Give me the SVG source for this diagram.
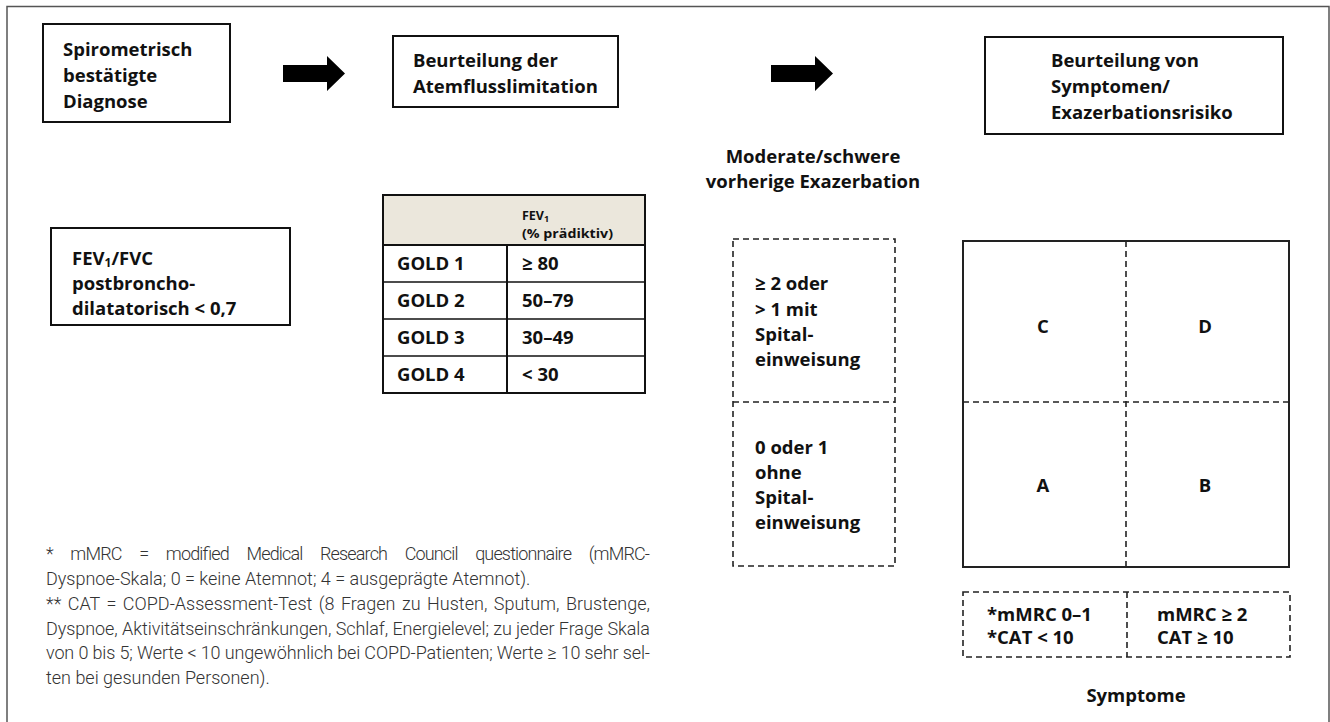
<svg xmlns="http://www.w3.org/2000/svg" width="1330" height="722" viewBox="0 0 1330 722">
<style>
  .box{fill:#fff;stroke:#111;stroke-width:2}
  .dash{fill:none;stroke:#222;stroke-width:1.6;stroke-dasharray:6 4}
  .t{font-family:"Open Sans","Noto Sans",sans-serif;font-weight:700;font-size:18.5px;fill:#111}
  .ts{font-family:"Open Sans","Noto Sans",sans-serif;font-weight:700;font-size:12.5px;fill:#111}
  .fn{font-family:Roboto,"Noto Sans",sans-serif;font-weight:300;font-size:18px;fill:#333}
  .arrow{fill:#000}
</style>
<rect x="0" y="0" width="1330" height="722" fill="#fff"/>
<path d="M7,722 V6.5 H1329 V722" fill="none" stroke="#555" stroke-width="1.5"/>

<g id="connectors">
  <polygon class="arrow" points="283,65 327,65 327,56 345,73.5 327,91 327,82 283,82"/>
  <polygon class="arrow" points="771,65 815,65 815,56 833,73.5 815,91 815,82 771,82"/>
</g>

<g id="box-diagnose">
  <rect class="box" x="43" y="24" width="187" height="98"/>
  <text class="t"><tspan x="63" y="56">Spirometrisch</tspan><tspan x="63" y="82">bestätigte</tspan><tspan x="63" y="108">Diagnose</tspan></text>
</g>

<g id="box-atemfluss">
  <rect class="box" x="393" y="36" width="225" height="71"/>
  <text class="t"><tspan x="413" y="67">Beurteilung der</tspan><tspan x="413" y="93">Atemflusslimitation</tspan></text>
</g>

<g id="box-symptome">
  <rect class="box" x="985" y="37" width="298" height="97"/>
  <text class="t"><tspan x="1051" y="67">Beurteilung von</tspan><tspan x="1051" y="93">Symptomen/</tspan><tspan x="1051" y="119">Exazerbationsrisiko</tspan></text>
</g>

<g id="box-fev">
  <rect class="box" x="51" y="228" width="239" height="97"/>
  <text class="t" font-size="19.5"><tspan x="72" y="265">FEV<tspan font-size="12" dy="2">1</tspan><tspan dy="-2">/FVC</tspan></tspan><tspan x="72" y="290">postbroncho-</tspan><tspan x="72" y="315">dilatatorisch &lt; 0,7</tspan></text>
</g>

<g id="table-gold">
  <rect x="383" y="195" width="262" height="50" fill="#ebe7dc"/>
  <rect x="383" y="195" width="262" height="198" fill="none" stroke="#111" stroke-width="2"/>
  <line x1="383" y1="245" x2="645" y2="245" stroke="#111" stroke-width="2"/>
  <line x1="383" y1="282" x2="645" y2="282" stroke="#111" stroke-width="1.5"/>
  <line x1="383" y1="319" x2="645" y2="319" stroke="#111" stroke-width="1.5"/>
  <line x1="383" y1="356" x2="645" y2="356" stroke="#111" stroke-width="1.5"/>
  <line x1="507" y1="245" x2="507" y2="393" stroke="#111" stroke-width="2"/>
  <text class="ts" x="522" y="220">FEV<tspan font-size="9" dy="2">1</tspan></text>
  <text class="ts" x="522" y="238" textLength="91" lengthAdjust="spacingAndGlyphs">(% prädiktiv)</text>
  <text class="t"><tspan x="397" y="270">GOLD 1</tspan><tspan x="397" y="307">GOLD 2</tspan><tspan x="397" y="344">GOLD 3</tspan><tspan x="397" y="381">GOLD 4</tspan></text>
  <text class="t"><tspan x="522" y="270">≥ 80</tspan><tspan x="522" y="307">50–79</tspan><tspan x="522" y="344">30–49</tspan><tspan x="522" y="381">&lt; 30</tspan></text>
</g>

<g id="exazerbation-label">
  <text class="t" text-anchor="middle"><tspan x="813" y="163">Moderate/schwere</tspan><tspan x="813" y="188">vorherige Exazerbation</tspan></text>
</g>

<g id="exazerbation-box">
  <rect class="dash" x="733" y="239" width="162" height="327"/>
  <line class="dash" x1="733" y1="402" x2="895" y2="402"/>
  <text class="t"><tspan x="755" y="290">≥ 2 oder</tspan><tspan x="755" y="316">&gt;  1 mit</tspan><tspan x="755" y="341">Spital-</tspan><tspan x="755" y="366">einweisung</tspan></text>
  <text class="t"><tspan x="755" y="454">0 oder 1</tspan><tspan x="755" y="479">ohne</tspan><tspan x="755" y="504">Spital-</tspan><tspan x="755" y="529">einweisung</tspan></text>
</g>

<g id="grid-abcd">
  <rect x="963" y="241" width="326" height="326" fill="none" stroke="#222" stroke-width="2"/>
  <line class="dash" x1="1126" y1="241" x2="1126" y2="567"/>
  <line class="dash" x1="963" y1="402" x2="1289" y2="402"/>
  <text class="t" text-anchor="middle"><tspan x="1043" y="333">C</tspan><tspan x="1205" y="333">D</tspan><tspan x="1043" y="492">A</tspan><tspan x="1205" y="492">B</tspan></text>
</g>

<g id="symptom-box">
  <rect class="dash" x="963" y="592" width="327" height="65"/>
  <line class="dash" x1="1127" y1="592" x2="1127" y2="657"/>
  <text class="t" font-size="15"><tspan x="987" y="621">*mMRC 0–1</tspan><tspan x="987" y="644">*CAT &lt; 10</tspan></text>
  <text class="t" font-size="15"><tspan x="1157" y="621">mMRC ≥ 2</tspan><tspan x="1157" y="644">CAT ≥ 10</tspan></text>
</g>

<g id="symptome-label">
  <text class="t" x="1136" y="702" text-anchor="middle" font-size="14.5">Symptome</text>
</g>

<g id="footnote">
  <text class="fn" x="46" y="560" word-spacing="14" textLength="604" lengthAdjust="spacing">* mMRC = modified Medical Research Council questionnaire (mMRC-</text>
  <text class="fn" x="46" y="585">Dyspnoe-Skala; 0 = keine Atemnot; 4 = ausgeprägte Atemnot).</text>
  <text class="fn" x="46" y="610" word-spacing="2" textLength="604" lengthAdjust="spacing">** CAT = COPD-Assessment-Test (8 Fragen zu Husten, Sputum, Brustenge,</text>
  <text class="fn" x="46" y="635" textLength="604" lengthAdjust="spacing">Dyspnoe, Aktivitätseinschränkungen, Schlaf, Energielevel; zu jeder Frage Skala</text>
  <text class="fn" x="46" y="659" textLength="604" lengthAdjust="spacing">von 0 bis 5; Werte &lt; 10 ungewöhnlich bei COPD-Patienten; Werte ≥ 10 sehr sel-</text>
  <text class="fn" x="46" y="684">ten bei gesunden Personen).</text>
</g>
</svg>
